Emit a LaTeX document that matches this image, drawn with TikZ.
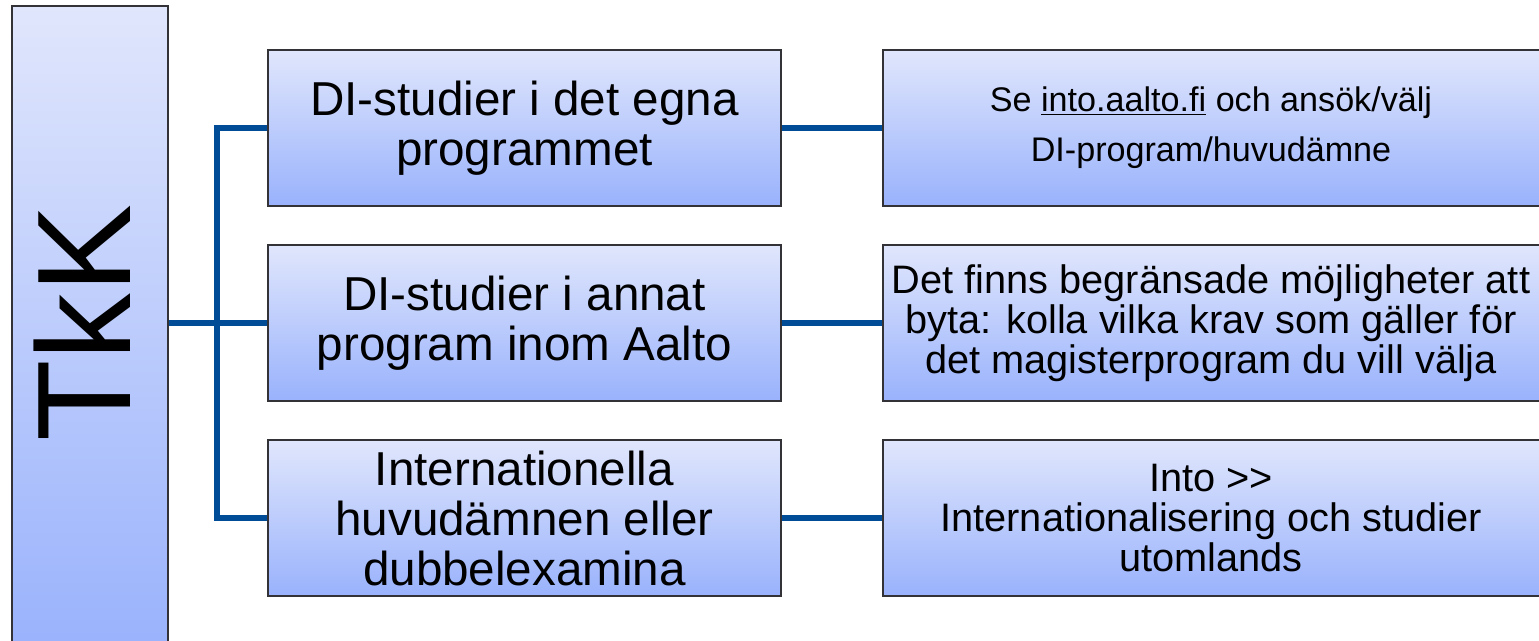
\documentclass[tikz,border=0pt]{standalone}
\usepackage{fontspec}
\setmainfont{Liberation Sans}
\definecolor{boxtop}{RGB}{224,230,252}
\definecolor{boxbot}{RGB}{153,178,252}
\definecolor{linkblue}{RGB}{0,76,151}
\definecolor{edgegray}{RGB}{50,50,55}
\tikzset{
  gbox/.style={draw=edgegray, line width=1.2pt, top color=boxtop, bottom color=boxbot, rectangle, inner sep=0pt, align=center},
  midbox/.style={gbox, minimum width=384.75pt, minimum height=117pt, font=\fontsize{35.7}{37.5}\selectfont},
  rightbox/.style={gbox, minimum width=495pt, minimum height=117pt},
  conn/.style={draw=linkblue, line width=3.8pt}
}
\begin{document}
\begin{tikzpicture}[x=0.75pt, y=-0.75pt]
\useasboundingbox (0,0) rectangle (1539,640);
\clip (0,0) rectangle (1539,640);
% TkK column
\node[gbox, minimum width=117pt, minimum height=483.75pt, anchor=north west] (tkk) at (11,5) {};
\node[rotate=90, inner sep=0pt, font=\fontsize{100}{100}\selectfont] (tkklabel) at (82.5,323) {TkK};
% middle boxes
\node[midbox] (m1) at (524.5,128) {DI-studier i det egna\\programmet};
\node[midbox] (m2) at (524.5,323) {DI-studier i annat\\program inom Aalto};
\node[midbox] (m3) at (524.5,518) {Internationella\\huvudämnen eller\\dubbelexamina};
% right boxes
\node[rightbox, anchor=west] (r1) at (882,128) {};
\node[rightbox, anchor=west] (r2) at (882,323) {};
\node[rightbox, anchor=west] (r3) at (882,518) {};
\node[align=center, inner sep=0pt, font=\fontsize{25.6}{37.5}\selectfont] (r1t) at (1211,128) {Se \underline{into.aalto.fi} och ansök/välj\\DI-program/huvudämne};
\node[align=center, inner sep=0pt, font=\fontsize{29.8}{30}\selectfont] (r2t) at (1211,323) {Det finns begränsade möjligheter att\\byta: kolla vilka krav som gäller för\\det magisterprogram du vill välja};
\node[align=center, inner sep=0pt, font=\fontsize{29.8}{30}\selectfont] (r3t) at (1211,518) {Into >{}>\\Internationalisering och studier\\utomlands};
% connectors
\coordinate (j1) at (217,128);
\coordinate (j3) at (217,518);
\draw[conn] (tkk.east |- m2.west) -- (m2.west);
\draw[conn] (m1.west) -- (j1) -- (j3) -- (m3.west);
\draw[conn] (m1.east) -- (r1.west);
\draw[conn] (m2.east) -- (r2.west);
\draw[conn] (m3.east) -- (r3.west);
\end{tikzpicture}
\end{document}
